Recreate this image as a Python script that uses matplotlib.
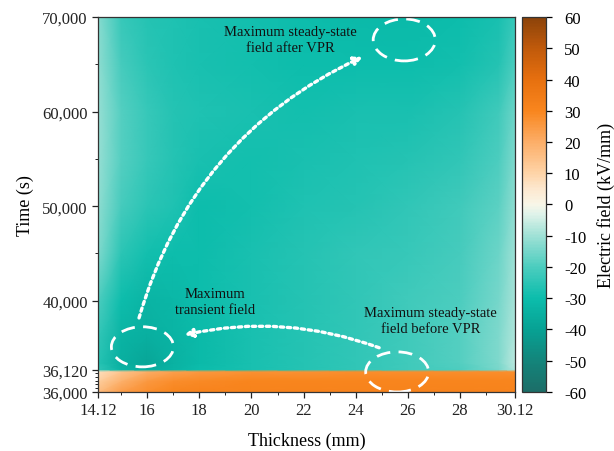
import numpy as np
import matplotlib
matplotlib.use("Agg")
import matplotlib.pyplot as plt
from matplotlib.colors import LinearSegmentedColormap, Normalize
from matplotlib.patches import Ellipse, FancyArrowPatch
from matplotlib.ticker import FixedLocator, FuncFormatter

plt.rcParams['font.family'] = ['Liberation Serif', 'DejaVu Serif']
plt.rcParams['axes.unicode_minus'] = False

# thickness (mm) and time (s) grid
thickness = [14.12, 15, 16, 17, 18, 20, 22, 24, 26, 28, 29.5, 30.12]
time = [36000, 36060, 36110, 36125, 36500, 38000, 40000,
        45000, 50000, 55000, 60000, 65000, 70000]

# electric field (kV/mm), one row per time
field = [
    [16, 24, 28, 30, 31, 31, 31, 31, 31, 31, 31, 31],
    [11, 19, 25, 28, 29, 30, 30, 30, 30, 30, 30, 30],
    [7, 14, 20, 23, 25, 27, 27, 28, 28, 28, 28, 28],
    [-24, -33, -36, -33, -30, -28, -26, -24, -22, -20, -15, -8],
    [-26, -35, -38, -34, -31, -28, -26, -24, -22, -19, -14, -7],
    [-24, -33, -35, -33, -31, -28, -26, -24, -22, -19, -14, -8],
    [-20, -30, -33, -32, -30, -28, -26, -24, -22, -20, -15, -9],
    [-14, -25, -29, -30, -30, -28, -26, -24, -23, -21, -16, -10],
    [-12, -21, -25, -27, -30, -29, -27, -26, -24, -22, -18, -12],
    [-11, -19, -23, -26, -28, -29, -28, -27, -26, -24, -20, -14],
    [-11, -19, -23, -26, -27, -28, -29, -28, -28, -26, -22, -16],
    [-12, -21, -25, -27, -28, -29, -30, -30, -30, -29, -26, -20],
    [-13, -23, -26, -27, -28, -29, -30, -31, -31, -30, -28, -23],
]

x_ticks = [14.12, 16, 18, 20, 22, 24, 26, 28, 30.12]
x_minor = [15, 17, 19, 21, 23, 25, 27, 29]
y_ticks = [36000, 36120, 40000, 50000, 60000, 70000]
y_minor = [36020, 36040, 36060, 36080, 36100, 45000, 55000, 65000]
cbar_ticks = list(range(-60, 61, 10))

# broken time axis: short transient stretch expanded
seg_t = [36000, 36120, 40000, 70000]
seg_f = [0.0, 0.059, 0.243, 1.0]
def fwd(t):
    return np.interp(t, seg_t, seg_f)
def inv(f):
    return np.interp(f, seg_f, seg_t)

cmap = LinearSegmentedColormap.from_list("field", [
    (0.0, "#1c6e68"), (10/120, "#13857b"), (20/120, "#07a294"),
    (30/120, "#0cbdac"), (40/120, "#4ccdbf"), (50/120, "#a0e1d6"),
    (57/120, "#e0f3ea"), (60/120, "#f8f6e8"), (65/120, "#fde8cf"),
    (70/120, "#fed4a8"), (80/120, "#fcae68"), (90/120, "#f9861e"),
    (100/120, "#e7700f"), (110/120, "#c15a0b"), (1.0, "#8b430a")])
norm = Normalize(-60, 60)

fig = plt.figure(figsize=(6.14, 4.52), dpi=100)
ax = fig.add_axes([0.160, 0.131, 0.679, 0.829])
cax = fig.add_axes([0.850, 0.131, 0.039, 0.829])

ax.set_yscale('function', functions=(fwd, inv))
X, Y = np.meshgrid(thickness, time)
mesh = ax.pcolormesh(X, Y, np.array(field, dtype=float), cmap=cmap, norm=norm,
                     shading='gouraud')
ax.set_xlim(14.12, 30.12)
ax.set_ylim(36000, 70000)

ax.xaxis.set_major_locator(FixedLocator(x_ticks))
ax.xaxis.set_minor_locator(FixedLocator(x_minor))
ax.xaxis.set_major_formatter(FuncFormatter(lambda v, p: f"{v:g}"))
ax.yaxis.set_major_locator(FixedLocator(y_ticks))
ax.yaxis.set_minor_locator(FixedLocator(y_minor))
ax.yaxis.set_major_formatter(FuncFormatter(lambda v, p: f"{v:,.0f}"))
ax.tick_params(which='major', direction='out', length=4, width=0.9,
               labelsize=12, colors='#222222')
ax.tick_params(which='minor', direction='out', length=2.5, width=0.7,
               colors='#222222')
for s in ax.spines.values():
    s.set_color('#333333')
    s.set_linewidth(0.9)
ax.set_xlabel("Thickness (mm)", fontsize=13, labelpad=10)
ax.set_ylabel("Time (s)", fontsize=13, labelpad=6)

cb = fig.colorbar(mesh, cax=cax, ticks=cbar_ticks)
cb.outline.set_edgecolor('#333333')
cb.outline.set_linewidth(0.9)
cax.tick_params(direction='out', length=4, width=0.9, labelsize=12, pad=9)
cb.set_label("Electric field (kV/mm)", fontsize=13, labelpad=8)

# annotations
ell_kw = dict(transform=ax.transAxes, fill=False, edgecolor='white',
              linewidth=2, linestyle=(0, (5, 3)))
ax.add_patch(Ellipse((0.734, 0.939), 0.149, 0.112, **ell_kw))
ax.add_patch(Ellipse((0.106, 0.120), 0.149, 0.107, **ell_kw))
ax.add_patch(Ellipse((0.717, 0.053), 0.151, 0.107, **ell_kw))

arr_kw = dict(transform=ax.transAxes, color='white', linewidth=2.4,
              linestyle=(0, (1, 1.1)), arrowstyle='-|>', mutation_scale=12)
ax.add_patch(FancyArrowPatch((0.096, 0.19), (0.64, 0.897),
                             connectionstyle="arc3,rad=-0.23", **arr_kw))
ax.add_patch(FancyArrowPatch((0.68, 0.115), (0.20, 0.15),
                             connectionstyle="arc3,rad=0.15", **arr_kw))

ax.text(0.461, 0.94, "Maximum steady-state\nfield after VPR", transform=ax.transAxes,
        ha='center', va='center', fontsize=10.5, linespacing=1.3, color='#111111')
ax.text(0.28, 0.242, "Maximum\ntransient field", transform=ax.transAxes,
        ha='center', va='center', fontsize=10.5, linespacing=1.3, color='#111111')
ax.text(0.797, 0.19, "Maximum steady-state\nfield before VPR", transform=ax.transAxes,
        ha='center', va='center', fontsize=10.5, linespacing=1.3, color='#111111')

fig.savefig("out.png", dpi=100)
